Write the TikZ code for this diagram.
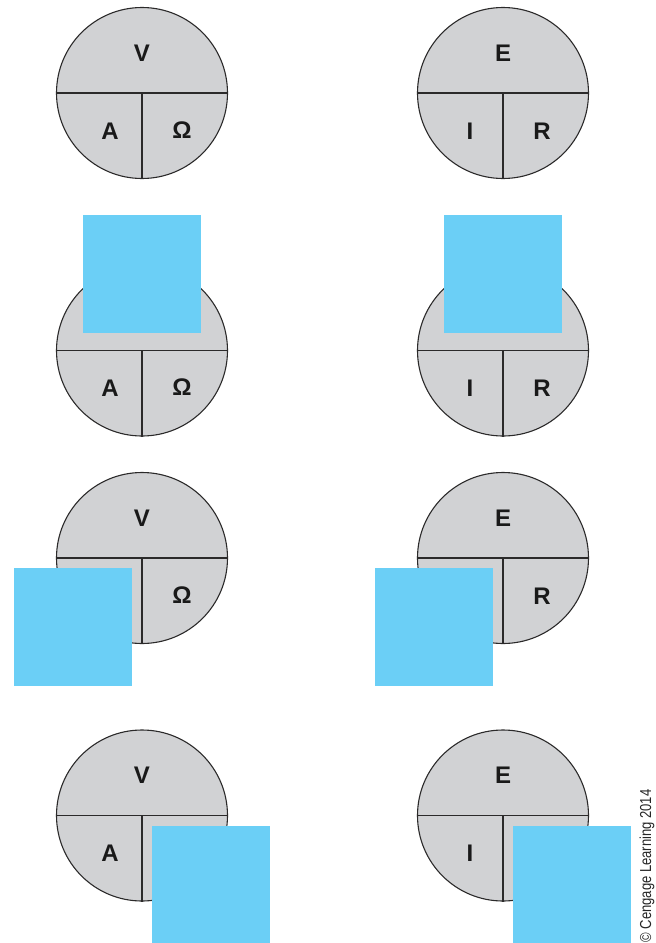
\documentclass[tikz,border=0pt]{standalone}
\usepackage{fontspec}
\setmainfont{Liberation Sans}
\usepackage{graphicx}
\definecolor{diskfill}{HTML}{D1D2D4}
\definecolor{diskline}{HTML}{2B2A2A}
\definecolor{coverblue}{HTML}{6BCFF6}
\begin{document}
\begin{tikzpicture}[x=1pt,y=-1pt,
  disk/.style={circle,draw=diskline,fill=diskfill,line width=1.1pt,minimum size=171pt,inner sep=0pt},
  divider/.style={draw=diskline,line width=1.1pt},
  lbl/.style={font=\fontsize{24}{26}\selectfont\bfseries,text=black!90,inner sep=0pt},
  cover/.style={fill=coverblue,draw=none,minimum size=118pt,inner sep=0pt,anchor=north west}]
\useasboundingbox (0,0) rectangle (656,943);
% circles
\foreach \n/\x/\y in {a1/142/93,b1/503/93,a2/142/350.5,b2/503/350.5,a3/142/558,b3/503/558,a4/142/815.5,b4/503/815.5}{
  \node[disk] (\n) at (\x,\y) {};
  \draw[divider] (\n.west) -- (\n.east);
  \draw[divider] (\n.center) -- (\n.south);
}
% labels
\node[lbl] (v1) at ([yshift=40]a1.center) {V};
\node[lbl] (a1l) at ([xshift=-32,yshift=-38]a1.center) {A};
\node[lbl] (o1) at ([xshift=40,yshift=-37]a1.center) {Ω};
\node[lbl] (e1) at ([yshift=40]b1.center) {E};
\node[lbl] (i1) at ([xshift=-33,yshift=-38]b1.center) {I};
\node[lbl] (r1) at ([xshift=39,yshift=-38]b1.center) {R};
\node[lbl] (a2l) at ([xshift=-32,yshift=-38]a2.center) {A};
\node[lbl] (o2) at ([xshift=40,yshift=-37]a2.center) {Ω};
\node[lbl] (i2) at ([xshift=-33,yshift=-38]b2.center) {I};
\node[lbl] (r2) at ([xshift=39,yshift=-38]b2.center) {R};
\node[lbl] (v3) at ([yshift=40]a3.center) {V};
\node[lbl] (o3) at ([xshift=40,yshift=-37]a3.center) {Ω};
\node[lbl] (e3) at ([yshift=40]b3.center) {E};
\node[lbl] (r3) at ([xshift=39,yshift=-38]b3.center) {R};
\node[lbl] (v4) at ([yshift=40]a4.center) {V};
\node[lbl] (a4l) at ([xshift=-32,yshift=-38]a4.center) {A};
\node[lbl] (e4) at ([yshift=40]b4.center) {E};
\node[lbl] (i4) at ([xshift=-33,yshift=-38]b4.center) {I};
% covering squares
\node[cover] (s1) at (83,215) {};
\node[cover] (s2) at (444,215) {};
\node[cover] (s3) at (14,568) {};
\node[cover] (s4) at (375,568) {};
\node[cover] (s5) at (152,826) {};
\node[cover] (s6) at (513,826) {};
% credit
\node[rotate=90,inner sep=0pt,text=black!85] (credit) at (647,866) {\resizebox{153pt}{11.5pt}{\fontsize{14}{16}\selectfont \textcopyright{} Cengage Learning 2014}};
\end{tikzpicture}
\end{document}
